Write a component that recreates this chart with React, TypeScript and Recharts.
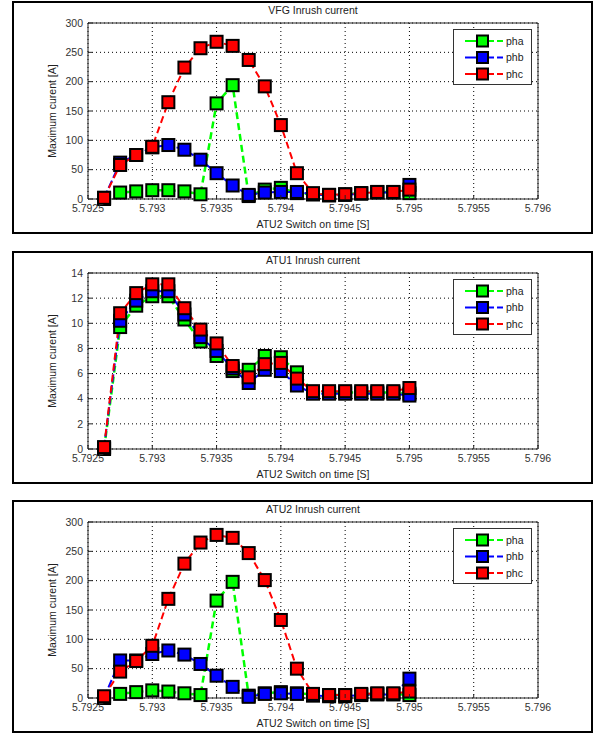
import React from "react";
import {
  LineChart,
  Line,
  XAxis,
  YAxis,
  CartesianGrid,
  Legend,
} from "recharts";

// switch-on times (s)
const times = [
  5.792625, 5.79275, 5.792875, 5.793, 5.793125, 5.79325, 5.793375, 5.7935,
  5.793625, 5.79375, 5.793875, 5.794, 5.794125, 5.79425, 5.794375, 5.7945,
  5.794625, 5.79475, 5.794875, 5.795,
];
const xTicks = [5.7925, 5.793, 5.7935, 5.794, 5.7945, 5.795, 5.7955, 5.796];

// VFG
const vfgPha = [0, 11, 13, 15, 15, 13, 8, 163, 194, 5, 16, 19, 10, 8, 7, 8, 10, 12, 12, 10];
const vfgPhb = [2, 62, 75, 88, 92, 84, 67, 44, 23, 7, 11, 12, 12, 8, 6, 7, 9, 11, 11, 24];
const vfgPhc = [2, 58, 75, 89, 165, 224, 257, 268, 261, 237, 192, 126, 44, 10, 7, 8, 10, 12, 12, 16];

// ATU1
const atu1Pha = [0, 9.7, 11.4, 12.15, 12.15, 10.3, 8.55, 7.4, 6.2, 6.3, 7.4, 7.3, 6.1, 4.5, 4.5, 4.5, 4.5, 4.5, 4.5, 4.4];
const atu1Phb = [0.1, 10.2, 11.8, 12.55, 12.55, 10.7, 8.9, 7.8, 6.4, 5.25, 6.3, 6.2, 5.05, 4.4, 4.4, 4.4, 4.4, 4.4, 4.4, 4.25];
const atu1Phc = [0.15, 10.8, 12.4, 13.1, 13.1, 11.2, 9.5, 8.4, 6.6, 5.7, 6.75, 6.85, 5.6, 4.6, 4.6, 4.6, 4.6, 4.6, 4.6, 4.85];

// ATU2
const atu2Pha = [0, 7, 10, 13, 11, 8, 5, 166, 198, 4, 8, 10, 8, 6, 5, 5, 6, 7, 7, 5];
const atu2Phb = [1, 64, 64, 75, 81, 74, 58, 38, 19, 2, 7, 8, 7, 4, 3, 3, 5, 6, 6, 33];
const atu2Phc = [3, 45, 63, 89, 169, 229, 265, 278, 273, 247, 201, 133, 50, 7, 5, 5, 7, 8, 8, 11];

const ticks300 = [0, 50, 100, 150, 200, 250, 300];
const ticks14 = [0, 2, 4, 6, 8, 10, 12, 14];

const FONT = "'Liberation Sans', Arial, Helvetica, sans-serif";
const COLORS = { pha: "#00ff00", phb: "#0000ff", phc: "#ff0000" };

const square = (color: string) => (props: any) => {
  const { cx, cy, index } = props;
  if (cx == null || cy == null) return <g key={index} />;
  return (
    <rect key={index} x={cx - 6} y={cy - 6} width={12} height={12}
      fill={color} stroke="#000" strokeWidth={2} />
  );
};

const XTick = (props: any) => {
  const { x, y, payload } = props;
  return (
    <g>
      <line x1={x} x2={x} y1={y - 6} y2={y - 10} stroke="#222" />
      <text x={x} y={y} dy="0.71em" textAnchor="middle" fontSize={10.5}
        fontFamily={FONT} fill="#333">{String(payload.value)}</text>
    </g>
  );
};

const YTick = (props: any) => {
  const { x, y, payload } = props;
  return (
    <g>
      <line x1={x + 5} x2={x + 9} y1={y} y2={y} stroke="#222" />
      <text x={x} y={y} dy="0.35em" textAnchor="end" fontSize={10.5}
        fontFamily={FONT} fill="#333">{String(payload.value)}</text>
    </g>
  );
};

const LegendBox = (props: any) => {
  const items = (props.payload || []).slice().sort((a: any, b: any) =>
    String(a.value).localeCompare(String(b.value)));
  return (
    <div style={{ width: 79, height: 56, border: "1px solid #333", background: "#fff", boxSizing: "border-box" }}>
      <svg width={77} height={54}>
        {items.map((it: any, i: number) => {
          const y = 11 + i * 16.5;
          return (
            <g key={it.value}>
              <line x1={11} x2={24} y1={y} y2={y} stroke={it.color} strokeWidth={2} />
              <line x1={33} x2={49} y1={y} y2={y} stroke={it.color} strokeWidth={2} strokeDasharray="7 3" />
              <rect x={23} y={y - 5.5} width={11} height={11} fill={it.color} stroke="#000" strokeWidth={2} />
              <text x={52} y={y} dy="0.35em" fontSize={10.5} fontFamily={FONT} fill="#222">{it.value}</text>
            </g>
          );
        })}
      </svg>
    </div>
  );
};

interface PanelProps {
  title: string;
  top: number;
  pha: number[];
  phb: number[];
  phc: number[];
  yMax: number;
  yTicks: number[];
}

const Panel: React.FC<PanelProps> = ({ title, top, pha, phb, phc, yMax, yTicks }) => {
  const data = times.map((t, i) => ({ t, pha: pha[i], phb: phb[i], phc: phc[i] }));
  return (
    <div style={{ position: "absolute", left: 12, top, width: 581, height: 233, border: "2px solid #000", boxSizing: "border-box", background: "#fff" }}>
      <LineChart width={577} height={229} data={data}
        margin={{ top: 20, right: 53, bottom: 4, left: 14 }}>
        <CartesianGrid stroke="#000" strokeDasharray="1 3" strokeWidth={1} />
        <XAxis dataKey="t" type="number" domain={[5.7925, 5.796]} ticks={xTicks}
          allowDataOverflow height={29} tickSize={3} tickMargin={3} tickLine={false}
          stroke="#222" tick={<XTick />}
          label={(p: any) => {
            const vb = p.viewBox;
            return (
              <text x={vb.x + vb.width / 2} y={vb.y + 25} dy="0.35em" textAnchor="middle"
                fontSize={10.5} fontFamily={FONT} fill="#222">ATU2 Switch on time [S]</text>
            );
          }} />
        <XAxis xAxisId="top" orientation="top" dataKey="t" type="number" domain={[5.7925, 5.796]}
          ticks={xTicks} mirror tick={false} tickSize={4} stroke="#222" />
        <YAxis type="number" domain={[0, yMax]} ticks={yTicks} width={60} tickSize={3}
          tickMargin={2} tickLine={false} stroke="#222" tick={<YTick />}
          label={(p: any) => {
            const vb = p.viewBox;
            const cx = vb.x + 24;
            const cy = vb.y + vb.height / 2;
            return (
              <text x={cx} y={cy} dy="0.35em" textAnchor="middle" transform={`rotate(-90 ${cx} ${cy})`}
                fontSize={10.5} fontFamily={FONT} fill="#222">Maximum curent [A]</text>
            );
          }} />
        <YAxis yAxisId="right" orientation="right" type="number" domain={[0, yMax]}
          ticks={yTicks} mirror tick={false} tickSize={4} stroke="#222" />
        <Legend layout="vertical" align="center" verticalAlign="middle"
          wrapperStyle={{ left: 439, top: 26, width: 79 }} content={<LegendBox />} />
        <Line dataKey="pha" name="pha" stroke={COLORS.pha} strokeWidth={2.5} strokeDasharray="7 4"
          dot={square(COLORS.pha)} isAnimationActive={false} />
        <Line dataKey="phb" name="phb" stroke={COLORS.phb} strokeWidth={2} strokeDasharray="8 3"
          dot={square(COLORS.phb)} isAnimationActive={false} />
        <Line dataKey="phc" name="phc" stroke={COLORS.phc} strokeWidth={2} strokeDasharray="7 4"
          dot={square(COLORS.phc)} isAnimationActive={false} />
      </LineChart>
      <div style={{ position: "absolute", left: 199, top: 1, width: 200, zIndex: 5, textAlign: "center", fontSize: 10.5, lineHeight: "12px", fontFamily: FONT, color: "#222" }}>
        {title}
      </div>
    </div>
  );
};

export default function App() {
  return (
    <div style={{ position: "absolute", left: 0, top: 0, width: 593, height: 735, background: "#fff" }}>
      <Panel title="VFG Inrush current" top={1} pha={vfgPha} phb={vfgPhb} phc={vfgPhc} yMax={300} yTicks={ticks300} />
      <Panel title="ATU1 Inrush current" top={251} pha={atu1Pha} phb={atu1Phb} phc={atu1Phc} yMax={14} yTicks={ticks14} />
      <Panel title="ATU2 Inrush current" top={500} pha={atu2Pha} phb={atu2Phb} phc={atu2Phc} yMax={300} yTicks={ticks300} />
    </div>
  );
}
